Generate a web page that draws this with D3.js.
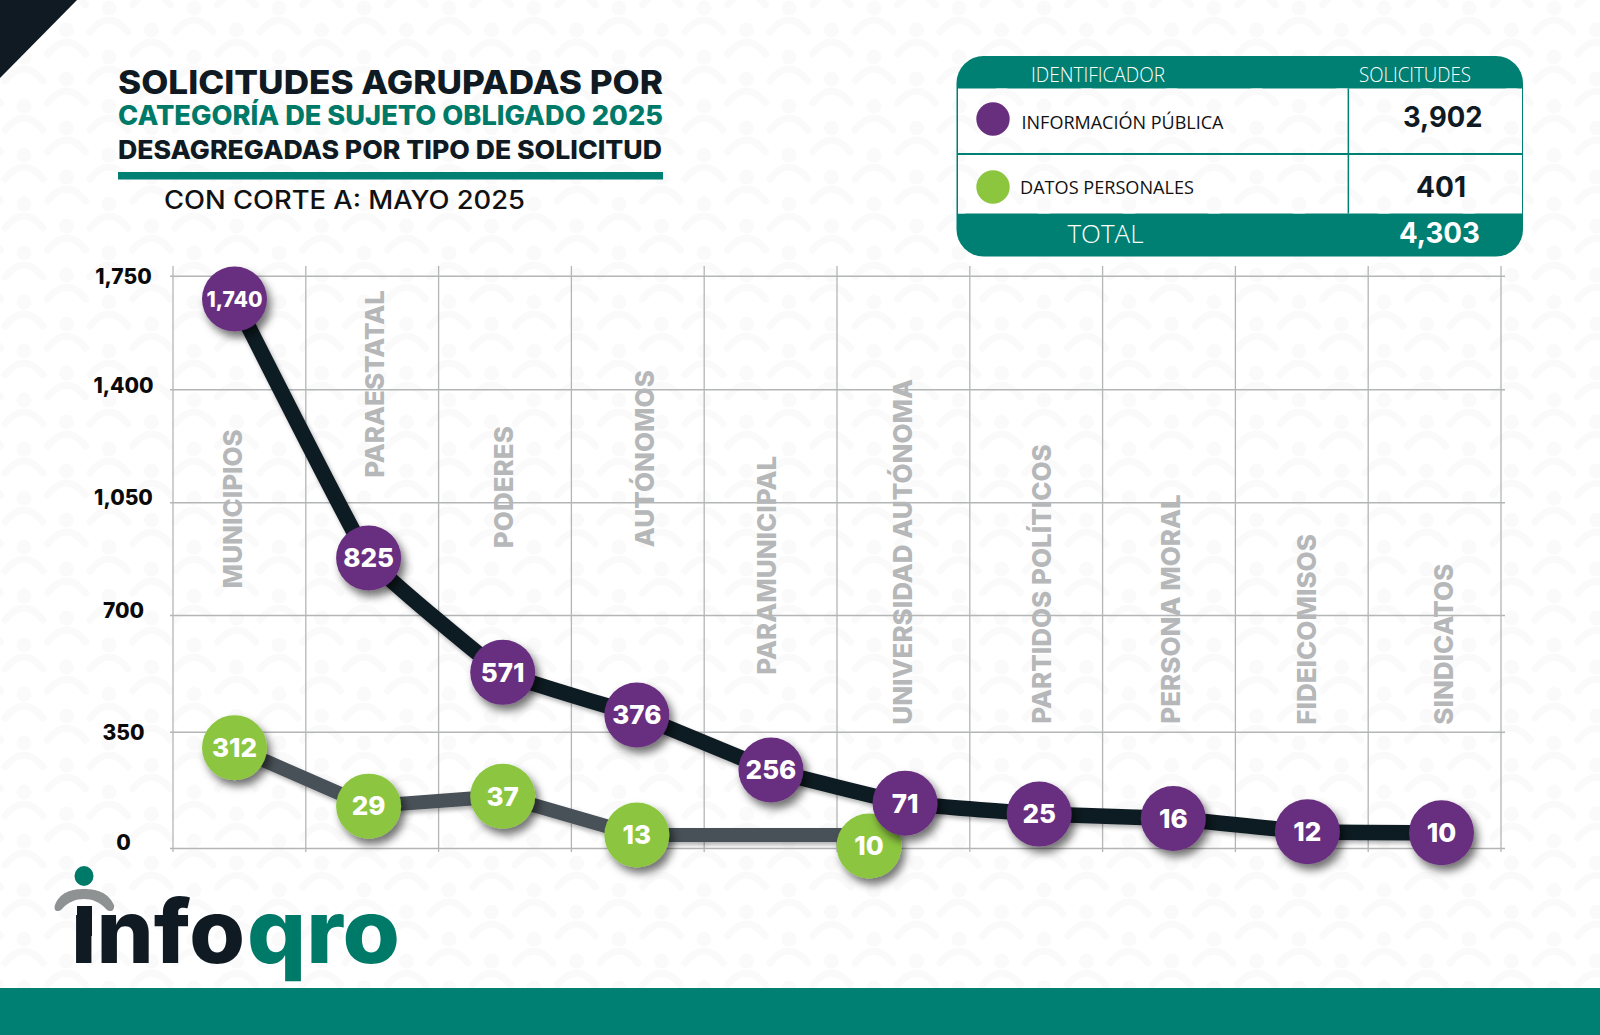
<!DOCTYPE html>
<html>
<head>
<meta charset="utf-8">
<script src="https://cdn.jsdelivr.net/npm/d3@7"></script>
<style>
  html, body { margin: 0; padding: 0; background: #fff; }
  svg { display: block; }
  text { font-family: Inter, "Noto Sans", sans-serif; }
</style>
</head>
<body>
<svg id="chart" width="1600" height="1035"></svg>
<script>
'use strict';

var categories = ['MUNICIPIOS', 'PARAESTATAL', 'PODERES', 'AUTÓNOMOS', 'PARAMUNICIPAL',
    'UNIVERSIDAD AUTÓNOMA', 'PARTIDOS POLÍTICOS', 'PERSONA MORAL', 'FIDEICOMISOS', 'SINDICATOS'];
var personalesCategories = ['MUNICIPIOS', 'PARAESTATAL', 'PODERES', 'AUTÓNOMOS', 'UNIVERSIDAD AUTÓNOMA'];

// printed on the markers
var publicaLabels = [1740, 825, 571, 376, 256, 71, 25, 16, 12, 10];
var personalesLabels = [312, 29, 37, 13, 10];

// height of each marker read against the y axis: the original is hand placed,
// so these differ from the printed numbers
var publicaLevels = [1678, 877, 528, 400, 235, 135, 102, 89, 49, 46];
var personalesLevels = [302, 126, 156, 39, 39];

var yTicks = [0, 350, 700, 1050, 1400, 1750];

var legendNames = ['INFORMACIÓN PÚBLICA', 'DATOS PERSONALES'];
var legendTotals = [3902, 401];
var grandTotal = 4303;

var TEAL = '#007f73', TEAL_TEXT = '#007a68', INK = '#0f1a22', SLATE = '#4a5159',
    PURPLE = '#682f7f', GREEN = '#8cc63f', GRID = '#b4b5b6', LABEL = '#b5b7b9', RADIUS = 32.5,
    MOTIF = '#fafafa';

var svg = d3.select('#chart');
var defs = svg.append('defs');
var fmt = d3.format(',');

/* background pattern */
var tile = defs.append('pattern').attr('id', 'tile').attr('patternUnits', 'userSpaceOnUse')
    .attr('width', 85).attr('height', 49).append('g').attr('fill', MOTIF);
[[24, 0], [66.5, 22], [66.5, -27], [-18.5, 22], [-18.5, -27]].forEach(function (p) {
    tile.append('circle').attr('cx', p[0]).attr('cy', p[1] + 8).attr('r', 7.5);
    tile.append('path')
        .attr('d', 'M' + (p[0] - 19) + ',' + (p[1] + 32) + ' Q' + p[0] + ',' + (p[1] + 8) + ' ' + (p[0] + 19) + ',' + (p[1] + 32))
        .attr('fill', 'none').attr('stroke', MOTIF).attr('stroke-width', 7).attr('stroke-linecap', 'round');
});

function shadow(id, dx, dy, blur, opacity) {
    defs.append('filter').attr('id', id).attr('x', '-50%').attr('y', '-50%').attr('width', '200%').attr('height', '200%')
        .append('feDropShadow').attr('dx', dx).attr('dy', dy).attr('stdDeviation', blur)
        .attr('flood-color', '#000').attr('flood-opacity', opacity);
}
shadow('markerShadow', 4, 6, 4, 0.55);
shadow('lineShadow', 2, 3, 2, 0.3);

svg.append('rect').attr('width', 1600).attr('height', 1035).attr('fill', '#fff');
svg.append('rect').attr('width', 1600).attr('height', 1035).attr('fill', 'url(#tile)');

svg.append('path').attr('d', 'M0,0 L77,0 L0,78 Z').attr('fill', INK);
svg.append('rect').attr('x', 0).attr('y', 988).attr('width', 1600).attr('height', 47).attr('fill', TEAL);

/* title block */
function fitted(x, y, width, size, weight, fill, str) {
    return svg.append('text').attr('x', x).attr('y', y)
        .attr('textLength', width).attr('lengthAdjust', 'spacingAndGlyphs')
        .attr('font-size', size).attr('font-weight', weight).attr('fill', fill).text(str);
}
fitted(118, 94, 545, 33, 800, INK, 'SOLICITUDES AGRUPADAS POR');
fitted(118, 125, 545, 27, 800, TEAL_TEXT, 'CATEGORÍA DE SUJETO OBLIGADO 2025');
fitted(118, 158.5, 544, 25.5, 800, INK, 'DESAGREGADAS POR TIPO DE SOLICITUD');
svg.append('rect').attr('x', 118).attr('y', 172).attr('width', 545).attr('height', 7.5).attr('fill', TEAL);
fitted(164, 209, 361, 25, 500, '#111', 'CON CORTE A: MAYO 2025');

/* legend table */
var table = svg.append('g');
table.append('rect').attr('x', 956.5).attr('y', 56).attr('width', 566.5).attr('height', 200.5).attr('rx', 27).attr('fill', TEAL);
table.append('rect').attr('x', 958).attr('y', 88.5).attr('width', 564).attr('height', 125).attr('fill', '#fff');
table.append('rect').attr('x', 958).attr('y', 88.5).attr('width', 564).attr('height', 125).attr('fill', 'url(#tile)');
table.append('rect').attr('x', 958).attr('y', 153).attr('width', 564).attr('height', 2).attr('fill', TEAL);
table.append('rect').attr('x', 1347.6).attr('y', 88.5).attr('width', 1.5).attr('height', 125).attr('fill', TEAL);
fitted(1031, 81.5, 134, 20, 300, '#fff', 'IDENTIFICADOR').style('font-family', '"Open Sans"');
fitted(1359, 81.5, 112, 20, 300, '#fff', 'SOLICITUDES').style('font-family', '"Open Sans"');

var legendStyle = [
    { dot: PURPLE, dotY: 119, nameX: 1021.5, nameW: 202, nameY: 129, valX: 1403, valW: 79.5, valY: 127 },
    { dot: GREEN, dotY: 187, nameX: 1020, nameW: 174, nameY: 194, valX: 1416, valW: 50, valY: 197 }
];
legendNames.forEach(function (name, i) {
    var s = legendStyle[i];
    table.append('circle').attr('cx', 993).attr('cy', s.dotY).attr('r', 16.7).attr('fill', s.dot);
    fitted(s.nameX, s.nameY, s.nameW, 19, 400, '#111', name).style('font-family', '"Open Sans"');
    fitted(s.valX, s.valY, s.valW, 28, 700, INK, fmt(legendTotals[i]));
});
fitted(1067.5, 243, 76, 25, 300, '#fff', 'TOTAL').style('font-family', '"Open Sans"');
fitted(1399, 243, 81, 28, 700, '#fff', fmt(grandTotal));

/* scales: the printed grid is slightly uneven, hence one range stop per tick */
var y = d3.scaleLinear().domain(yTicks).range([848, 731.7, 615, 502.3, 389.3, 275.7]);
var x = d3.scalePoint().domain(categories).range([234.5, 1441.5]);
var gridX = d3.scaleLinear().domain([0, categories.length]).range([172.5, 1500.5]);

/* grid */
var xGrid = svg.append('g').attr('transform', 'translate(0,266)')
    .call(d3.axisBottom(gridX).tickValues(d3.range(categories.length + 1)).tickSize(586).tickFormat(''));
xGrid.select('.domain').remove();
xGrid.selectAll('line').attr('stroke', GRID).attr('stroke-width', 1.3);

var tickNudge = [-6, 0, -5, -5, -4, 0];
var yAxis = svg.append('g').attr('transform', 'translate(1505,0)')
    .call(d3.axisLeft(y).tickValues(yTicks).tickSize(1335).tickFormat(fmt));
yAxis.select('.domain').remove();
yAxis.selectAll('line').attr('stroke', GRID).attr('stroke-width', 1.5);
yAxis.selectAll('text')
    .attr('x', -1381.5).attr('y', function (d, i) { return tickNudge[i]; })
    .attr('dy', '0.36em')
    .attr('text-anchor', 'middle')
    .attr('font-size', 21).attr('font-weight', 800).attr('fill', '#0a0a0a')
    .style('font-family', 'Inter');

/* rotated category names, feet read against the y axis */
var labelFeet = [792, 1135, 917, 920, 530, 380, 383, 383, 380, 380];
var labelNudge = [-2, 6, 1, 8, -4.5, -3, 2, -3, -1, 2];
svg.append('g').selectAll('text').data(categories).enter().append('text')
    .attr('transform', function (d, i) { return 'translate(' + (x(d) + labelNudge[i] + 9.5) + ',' + (y(labelFeet[i]) + 3) + ') rotate(-90)'; })
    .attr('font-size', 26).attr('font-weight', 800).attr('fill', LABEL)
    .text(function (d) { return d; });

/* series */
function drawSeries(names, levels, labels, color, lineColor, lineWidth, curve, dodge) {
    var px = function (d, i) { return x(names[i]) + (i === dodge.index ? dodge.x : 0); };
    var py = function (d, i) { return y(levels[i]) + (i === dodge.index ? dodge.y : 0); };
    var line = d3.line().curve(curve)
        .x(function (d, i) { return px(d, i); })
        .y(function (d, i) { return y(levels[i]); });

    var g = svg.append('g');
    g.append('path').attr('d', line(levels)).attr('fill', 'none')
        .attr('stroke', lineColor).attr('stroke-width', lineWidth)
        .attr('filter', 'url(#lineShadow)');
    g.selectAll('circle').data(labels).enter().append('circle')
        .attr('cx', px).attr('cy', py).attr('r', RADIUS).attr('fill', color)
        .attr('filter', 'url(#markerShadow)');
    g.selectAll('text').data(labels).enter().append('text')
        .attr('x', px).attr('y', py).attr('dy', '0.36em')
        .attr('text-anchor', 'middle').attr('fill', '#fff').attr('font-weight', 800)
        .attr('font-size', function (d) { return d >= 1000 ? 21 : 26; })
        .text(function (d) { return fmt(d); });
}
// last green marker sits pushed off the purple 71, below the end of its own line
drawSeries(personalesCategories, personalesLevels, personalesLabels, GREEN, SLATE, 14,
    d3.curveLinear, { index: 4, x: -36, y: 11 });
drawSeries(categories, publicaLevels, publicaLabels, PURPLE, INK, 15.5,
    d3.curveCardinal.tension(0.75), { index: -1, x: 0, y: 0 });

/* logo */
var logo = svg.append('g');
logo.append('ellipse').attr('cx', 84).attr('cy', 876).attr('rx', 9.5).attr('ry', 10).attr('fill', TEAL_TEXT);
logo.append('path')
    .attr('d', 'M55,905 C60,892 72,889 84,889 C96,889 108,892 114,905 C115,911 110,913 106,909 C100,902 92,899 84,899 C76,899 68,902 62,909 C58,913 53,911 55,905 Z')
    .attr('fill', '#8f9292');
logo.append('rect').attr('x', 77).attr('y', 906).attr('width', 15).attr('height', 30).attr('fill', INK);
fitted(71, 963, 174, 88, 800, INK, 'ınfo');
fitted(247, 963, 153, 88, 800, TEAL_TEXT, 'qro');
</script>
</body>
</html>
